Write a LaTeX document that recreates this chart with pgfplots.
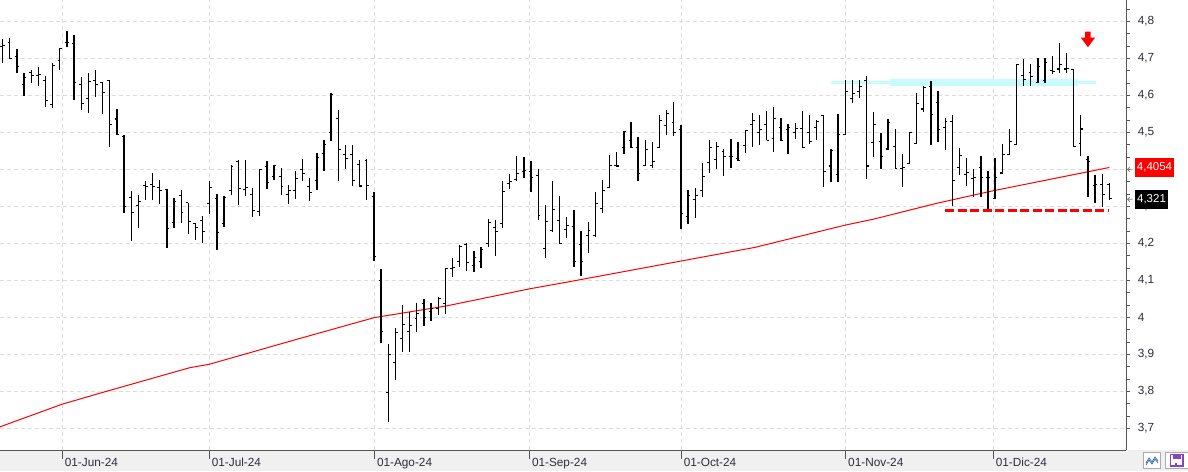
\documentclass[border=0pt]{standalone}
\usepackage{fontspec}
\setmainfont{Liberation Sans}
\usepackage{pgfplots}
\pgfplotsset{compat=1.18}
\usepackage{pgfplotstable}

\definecolor{gridc}{RGB}{220,220,220}
\definecolor{axc}{RGB}{85,85,85}
\definecolor{txtc}{RGB}{45,45,60}
\definecolor{bandc}{RGB}{200,252,252}
\definecolor{stripc}{RGB}{240,240,240}
\definecolor{btnc}{RGB}{170,170,180}
\definecolor{zigc}{RGB}{60,110,200}
\definecolor{floppyc}{RGB}{130,70,190}

\pgfdeclareplotmark{ohlcL}{\pgfpathmoveto{\pgfqpoint{-2.3pt}{0pt}}\pgfpathlineto{\pgfqpoint{0pt}{0pt}}\pgfusepathqstroke}
\pgfdeclareplotmark{ohlcR}{\pgfpathmoveto{\pgfqpoint{0pt}{0pt}}\pgfpathlineto{\pgfqpoint{2.3pt}{0pt}}\pgfusepathqstroke}

\pgfplotstableread{
i O H L C
1 4.733 4.751 4.686 4.735
2 4.742 4.756 4.699 4.699
3 4.705 4.724 4.659 4.677
4 4.629 4.661 4.598 4.648
5 4.661 4.668 4.632 4.654
6 4.654 4.677 4.624 4.656
7 4.640 4.651 4.568 4.586
8 4.575 4.688 4.566 4.680
9 4.695 4.727 4.668 4.727
10 4.742 4.773 4.731 4.742
11 4.740 4.762 4.587 4.634
12 4.629 4.649 4.560 4.577
13 4.591 4.659 4.552 4.637
14 4.640 4.668 4.595 4.629
15 4.634 4.637 4.549 4.607
16 4.640 4.640 4.460 4.520
17 4.536 4.563 4.493 4.493
18 4.488 4.493 4.282 4.299
19 4.323 4.341 4.206 4.283
20 4.302 4.330 4.241 4.313
21 4.356 4.368 4.317 4.353
22 4.358 4.389 4.317 4.353
23 4.350 4.370 4.306 4.342
24 4.346 4.346 4.187 4.240
25 4.257 4.322 4.241 4.313
26 4.330 4.344 4.254 4.283
27 4.310 4.310 4.225 4.258
28 4.253 4.256 4.208 4.242
29 4.261 4.273 4.201 4.233
30 4.307 4.368 4.279 4.350
31 4.322 4.333 4.182 4.229
32 4.253 4.327 4.244 4.323
33 4.343 4.413 4.330 4.407
34 4.421 4.426 4.303 4.349
35 4.346 4.424 4.328 4.350
36 4.332 4.349 4.271 4.288
37 4.286 4.400 4.274 4.400
38 4.407 4.422 4.346 4.364
39 4.380 4.413 4.372 4.410
40 4.380 4.403 4.331 4.353
41 4.332 4.357 4.305 4.343
42 4.343 4.395 4.320 4.376
43 4.400 4.427 4.368 4.388
44 4.353 4.376 4.314 4.337
45 4.370 4.443 4.344 4.432
46 4.442 4.478 4.395 4.467
47 4.499 4.605 4.477 4.603
48 4.537 4.559 4.368 4.453
49 4.440 4.465 4.400 4.429
50 4.440 4.465 4.355 4.370
51 4.413 4.425 4.352 4.355
52 4.425 4.427 4.317 4.356
53 4.326 4.340 4.152 4.164
54 4.099 4.130 3.931 3.961
55 3.796 3.927 3.718 3.899
56 3.877 3.970 3.831 3.958
57 3.942 4.032 3.905 3.980
58 3.961 4.014 3.905 3.977
59 3.996 4.038 3.960 4.010
60 4.037 4.050 3.977 3.999
61 4.015 4.038 3.990 4.023
62 4.024 4.056 4.007 4.051
63 4.037 4.134 4.009 4.132
64 4.132 4.159 4.110 4.134
65 4.150 4.196 4.137 4.191
66 4.196 4.202 4.125 4.148
67 4.140 4.180 4.123 4.161
68 4.150 4.191 4.134 4.183
69 4.199 4.265 4.191 4.256
70 4.242 4.262 4.166 4.231
71 4.253 4.368 4.242 4.340
72 4.361 4.386 4.348 4.367
73 4.372 4.435 4.369 4.388
74 4.395 4.432 4.377 4.397
75 4.395 4.422 4.339 4.378
76 4.384 4.400 4.263 4.275
77 4.186 4.303 4.160 4.259
78 4.234 4.368 4.231 4.292
79 4.261 4.327 4.199 4.199
80 4.237 4.270 4.214 4.248
81 4.245 4.289 4.135 4.152
82 4.196 4.232 4.111 4.152
83 4.221 4.257 4.173 4.234
84 4.221 4.338 4.217 4.307
85 4.294 4.370 4.282 4.342
86 4.350 4.438 4.350 4.410
87 4.410 4.447 4.406 4.409
88 4.459 4.503 4.441 4.501
89 4.477 4.527 4.458 4.458
90 4.459 4.486 4.368 4.388
91 4.410 4.478 4.409 4.453
92 4.410 4.475 4.404 4.421
93 4.459 4.546 4.458 4.532
94 4.519 4.561 4.494 4.550
95 4.526 4.581 4.491 4.499
96 4.507 4.521 4.240 4.280
97 4.272 4.344 4.252 4.329
98 4.318 4.349 4.268 4.329
99 4.342 4.418 4.325 4.380
100 4.418 4.478 4.391 4.459
101 4.426 4.475 4.401 4.461
102 4.448 4.456 4.382 4.434
103 4.434 4.481 4.404 4.434
104 4.429 4.473 4.423 4.425
105 4.464 4.505 4.445 4.504
106 4.521 4.551 4.461 4.532
107 4.499 4.546 4.465 4.507
108 4.521 4.557 4.479 4.479
109 4.483 4.568 4.446 4.537
110 4.513 4.538 4.477 4.477
111 4.507 4.522 4.441 4.513
112 4.499 4.525 4.482 4.510
113 4.510 4.557 4.460 4.460
114 4.499 4.546 4.468 4.475
115 4.513 4.533 4.480 4.530
116 4.545 4.546 4.351 4.393
117 4.409 4.455 4.365 4.452
118 4.387 4.549 4.365 4.494
119 4.494 4.642 4.494 4.611
120 4.592 4.642 4.578 4.605
121 4.611 4.642 4.592 4.625
122 4.639 4.653 4.373 4.409
123 4.472 4.555 4.433 4.521
124 4.475 4.499 4.401 4.434
125 4.455 4.537 4.452 4.526
126 4.461 4.510 4.401 4.401
127 4.401 4.442 4.351 4.404
128 4.415 4.499 4.415 4.499
129 4.469 4.605 4.469 4.578
130 4.563 4.625 4.555 4.622
131 4.625 4.639 4.465 4.548
132 4.581 4.611 4.475 4.508
133 4.513 4.538 4.452 4.529
134 4.529 4.546 4.300 4.369
135 4.405 4.457 4.385 4.438
136 4.386 4.430 4.355 4.391
137 4.375 4.400 4.325 4.377
138 4.405 4.435 4.325 4.377
139 4.377 4.395 4.284 4.377
140 4.320 4.430 4.320 4.377
141 4.390 4.468 4.388 4.441
142 4.440 4.509 4.440 4.475
143 4.467 4.685 4.467 4.683
144 4.654 4.699 4.624 4.643
145 4.662 4.685 4.624 4.652
146 4.635 4.700 4.633 4.679
147 4.639 4.700 4.633 4.688
148 4.668 4.707 4.657 4.665
149 4.671 4.742 4.660 4.684
150 4.671 4.715 4.660 4.673
151 4.669 4.671 4.461 4.461
152 4.470 4.546 4.436 4.509
153 4.427 4.435 4.325 4.421
154 4.357 4.384 4.308 4.359
155 4.359 4.386 4.299 4.332
156 4.359 4.362 4.320 4.321
}\ohlc

\begin{document}
\begin{tikzpicture}[x=1pt,y=1pt]
\fill[white] (0,0) rectangle (1188,450);
\fill[stripc] (0,-21) rectangle (1188,0);
\begin{axis}[
  at={(0,0)}, anchor=south west,
  scale only axis, width=1126pt, height=450pt,
  xmin=0.622, xmax=158.33, ymin=3.6414, ymax=4.8576,
  axis x line*=bottom, axis y line*=right,
  every outer x axis line/.append style={-},
  every outer y axis line/.append style={-},
  axis line style={-, draw=axc, line width=1pt},
  tick align=outside,
  xtick={9.35,29.94,53.07,74.78,96.04,119.07,139.74},
  xticklabels={01-Jun-24,01-Jul-24,01-Ago-24,01-Sep-24,01-Oct-24,01-Nov-24,01-Dic-24},
  xtick style={draw=axc, line width=0.8pt, /pgfplots/major tick length=9pt},
  ytick={3.7,3.8,...,4.85},
  minor y tick num=2,
  ytick style={draw=axc, line width=0.8pt, /pgfplots/major tick length=4pt},
  minor tick length=4pt,
  grid=major,
  major grid style={draw=gridc, line width=0.9pt, dash pattern=on 4pt off 3pt},
  xticklabel style={font=\fontsize{11.8}{13}\selectfont, text=txtc, anchor=north west, xshift=-1pt},
  yticklabel style={font=\fontsize{11.8}{13}\selectfont, text=txtc, anchor=west, xshift=4pt,
    /pgf/number format/.cd, fixed, precision=1, use comma, assume math mode=true},
]
% resistance band
\addplot[fill=bandc, draw=none, forget plot] coordinates {(117.0,4.631) (154.1,4.631) (154.1,4.640) (117.0,4.640)} -- cycle;
\addplot[fill=bandc, draw=none, forget plot] coordinates {(125.3,4.625) (151.6,4.625) (151.6,4.643) (125.3,4.643)} -- cycle;
% moving average
\addplot[red, line width=1pt, mark=none] coordinates {
(0.62,3.704) (9.30,3.765) (14.63,3.795) (27.23,3.864) (29.92,3.873) (42.64,3.943)
(53.0,3.999) (63.2,4.031) (74.8,4.077) (80.0,4.095) (95.98,4.152) (106.36,4.189)
(118.96,4.249) (122.9,4.265) (131.8,4.308) (139.7,4.342) (156,4.405)};
% OHLC bars: high-low range with close tick
\addplot[black, only marks, mark=ohlcR, mark options={line width=1.1pt},
  error bars/.cd, y dir=both, y explicit, error mark=none,
  error bar style={line width=1.3pt, black}]
  table[x=i, y=C, y error plus expr=\thisrow{H}-\thisrow{C}, y error minus expr=\thisrow{C}-\thisrow{L}] {\ohlc};
% open tick
\addplot[black, only marks, mark=ohlcL, mark options={line width=1.1pt}]
  table[x=i, y=O] {\ohlc};
% support line
\addplot[red, line width=3pt, dash pattern=on 9pt off 3.5pt] coordinates {(133.0,4.289) (155.9,4.289)};
% red arrow
\addplot[fill=red, draw=none] coordinates {(152.62,4.772) (153.38,4.772) (153.38,4.756) (154.0,4.756) (153.0,4.730) (152.0,4.756) (152.62,4.756)} -- cycle;
\end{axis}
% last-value labels
\fill[red] (1135,273.3) rectangle (1174,292);
\node[text=white, font=\fontsize{11.5}{13}\selectfont, inner sep=0pt] at (1154.5,282.6) {4,4054};
\fill[black] (1135,241.3) rectangle (1168,260);
\node[text=white, font=\fontsize{11.5}{13}\selectfont, inner sep=0pt] at (1151.5,250.6) {4,321};
\draw[gray, line width=0.7pt] (1132.5,280.7) -- (1127.5,280.7) (1129.8,283) -- (1127.5,280.7) -- (1129.8,278.4);
\draw[gray, line width=0.7pt] (1132.5,250.7) -- (1127.5,250.7) (1129.8,253) -- (1127.5,250.7) -- (1129.8,248.4);
% bottom-right buttons
\filldraw[fill=white, draw=btnc, line width=0.8pt] (1143.5,-18.5) rectangle (1160.5,-2.5);
\draw[zigc, line width=0.8pt] (1146,-13) -- (1149,-8) -- (1152,-12) -- (1155,-7) -- (1158,-11);
\draw[zigc, line width=0.8pt] (1146,-15) -- (1149,-10) -- (1152,-14) -- (1155,-9) -- (1158,-13);
\filldraw[fill=white, draw=btnc, line width=0.8pt] (1165.5,-18.5) rectangle (1188,-2.5);
\filldraw[fill=white, draw=floppyc, line width=1.5pt] (1170.5,-16) rectangle (1183,-4.5);
\fill[floppyc] (1173,-9) rectangle (1180.5,-4.5);
\fill[floppyc] (1174.5,-16) rectangle (1176.5,-13);
\pgfresetboundingbox
\useasboundingbox (0,-21) rectangle (1188,450);
\end{tikzpicture}
\end{document}
